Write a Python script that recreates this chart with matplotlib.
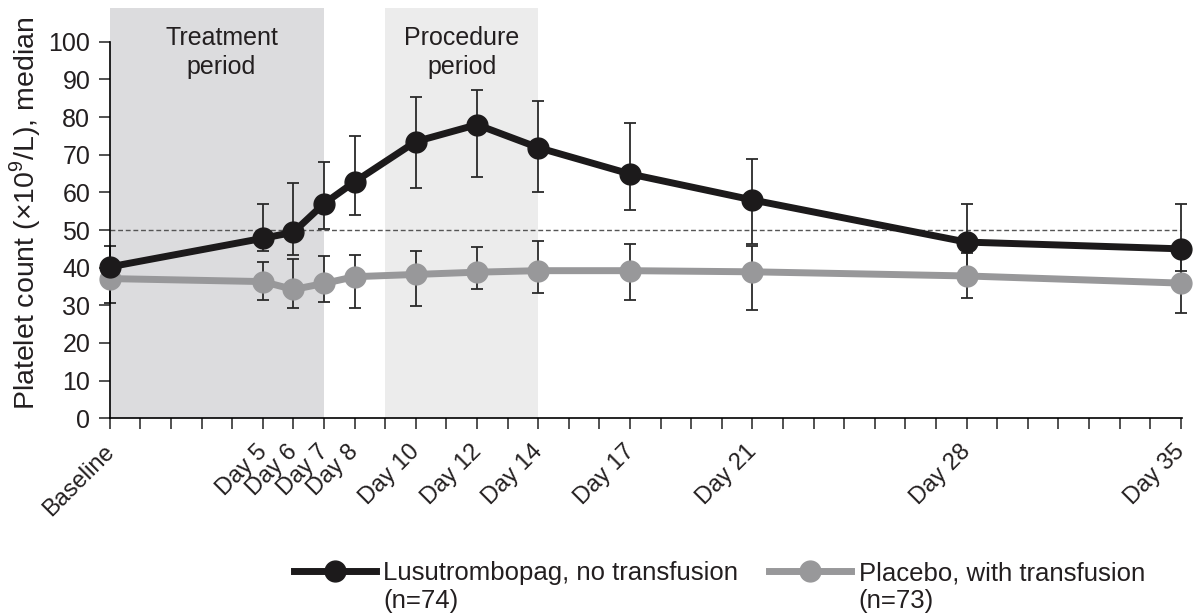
import matplotlib
matplotlib.use('Agg')
import matplotlib.pyplot as plt
from matplotlib.lines import Line2D
from matplotlib.transforms import ScaledTranslation
import numpy as np

plt.rcParams['font.family'] = ['Liberation Sans', 'DejaVu Sans']
plt.rcParams['mathtext.fontset'] = 'custom'
plt.rcParams['mathtext.rm'] = 'Liberation Sans'

# 데이터
days = [0, 5, 6, 7, 8, 10, 12, 14, 17, 21, 28, 35]
day_labels = ['Baseline', 'Day 5', 'Day 6', 'Day 7', 'Day 8', 'Day 10', 'Day 12',
              'Day 14', 'Day 17', 'Day 21', 'Day 28', 'Day 35']

lusu_median = [40.2, 47.8, 49.4, 57.0, 62.8, 73.5, 78.0, 71.9, 64.9, 58.0, 46.8, 45.0]
lusu_low = [35.0, 44.3, 43.3, 50.4, 54.1, 61.3, 64.2, 60.2, 55.2, 46.3, 40.0, 39.0]
lusu_high = [45.8, 56.8, 62.6, 68.2, 75.0, 85.4, 87.3, 84.3, 78.5, 68.9, 57.0, 57.0]

plac_median = [37.1, 36.3, 34.2, 35.8, 37.6, 38.2, 38.8, 39.2, 39.2, 38.9, 37.8, 35.9]
plac_low = [30.6, 31.3, 29.2, 30.8, 29.2, 29.7, 34.2, 33.4, 31.3, 28.7, 31.9, 27.9]
plac_high = [41.0, 41.4, 42.2, 43.0, 43.3, 44.3, 45.4, 47.2, 46.2, 45.8, 44.0, 43.0]

treatment_period = (0, 7)
procedure_period = (9, 14)
threshold = 50

black = '#1c1a1b'
gray = '#98989a'
text_col = '#231f20'

fig = plt.figure(figsize=(11.93, 6.15), dpi=100)
ax = fig.add_axes([0.092, 0.320, 0.899, 0.667])

# 기간 음영
ax.axvspan(*treatment_period, color='#dcdcde', lw=0, zorder=0)
ax.axvspan(*procedure_period, color='#ececec', lw=0, zorder=0)
ax.text(np.mean(treatment_period) + 0.15, 97.2, 'Treatment\nperiod', ha='center', va='center',
        fontsize=18, color=text_col, linespacing=1.25)
ax.text(np.mean(procedure_period) + 0.0, 97.2, 'Procedure\nperiod', ha='center', va='center',
        fontsize=18, color=text_col, linespacing=1.25)

# 기준선
ax.axhline(threshold, color='#555555', lw=1.0, ls=(0, (3.5, 2)), zorder=1)

# 오차 막대
for med, lo, hi in [(lusu_median, lusu_low, lusu_high), (plac_median, plac_low, plac_high)]:
    med = np.array(med)
    yerr = [med - np.array(lo), np.array(hi) - med]
    ax.errorbar(days, med, yerr=yerr, fmt='none', ecolor='#2a2a2a', elinewidth=1.3,
                capsize=4, capthick=1.3, zorder=2, clip_on=False)

# 선
ax.plot(days, plac_median, color=gray, lw=5, marker='o', ms=15, mfc=gray, mec=gray,
        zorder=3, clip_on=False)
ax.plot(days, lusu_median, color=black, lw=5, marker='o', ms=15, mfc=black, mec=black,
        zorder=4, clip_on=False)

# 축
ax.set_xlim(0, 35.05)
ax.set_ylim(0, 109)
ax.set_xticks(days)
ax.set_xticklabels(day_labels, rotation=45, ha='right', rotation_mode='anchor',
                   fontsize=17, color=text_col)
ax.set_xticks(range(0, 36), minor=True)
ax.set_yticks(range(0, 101, 10))
ax.tick_params(axis='y', labelsize=18, length=8, width=1.2, direction='out', pad=6,
               colors='#333333', labelcolor=text_col)
ax.tick_params(axis='x', which='both', length=8, width=1.2, direction='out', color='#333333',
               pad=8)
# 라벨을 왼쪽으로 약간 이동 (tick_params 뒤에)
shift = ScaledTranslation(-5 / 72, 0, fig.dpi_scale_trans)
for tick in ax.xaxis.get_major_ticks():
    tick.label1.set_transform(tick.label1.get_transform() + shift)
ax.spines['top'].set_visible(False)
ax.spines['right'].set_visible(False)
ax.spines['left'].set_bounds(0, 100)
ax.spines['left'].set_linewidth(1.2)
ax.spines['bottom'].set_linewidth(1.2)
ax.set_ylabel(r'Platelet count (×10$^{9}$/L), median', fontsize=20.5, color=text_col, labelpad=4)

# 범례
handles = [
    Line2D([], [], color=black, lw=5, marker='o', ms=15, mfc=black, mec=black),
    Line2D([], [], color=gray, lw=5, marker='o', ms=15, mfc=gray, mec=gray),
]
leg = fig.legend(handles, ['Lusutrombopag, no transfusion', 'Placebo, with transfusion'],
                 loc='center', bbox_to_anchor=(0.603, 0.068), ncol=2, frameon=False,
                 fontsize=18.5, handlelength=3.2, handletextpad=0.28, columnspacing=1.2)
for t in leg.get_texts():
    t.set_color(text_col)

fig.canvas.draw()
inv = fig.transFigure.inverted()
for t, n in zip(leg.get_texts(), ['(n=74)', '(n=73)']):
    bb = t.get_window_extent()
    x0, y0 = inv.transform((bb.x0, bb.y0))
    fig.text(x0, y0 - 0.006, n, ha='left', va='top', fontsize=18.5, color=text_col)

fig.savefig('out.png', dpi=100)
